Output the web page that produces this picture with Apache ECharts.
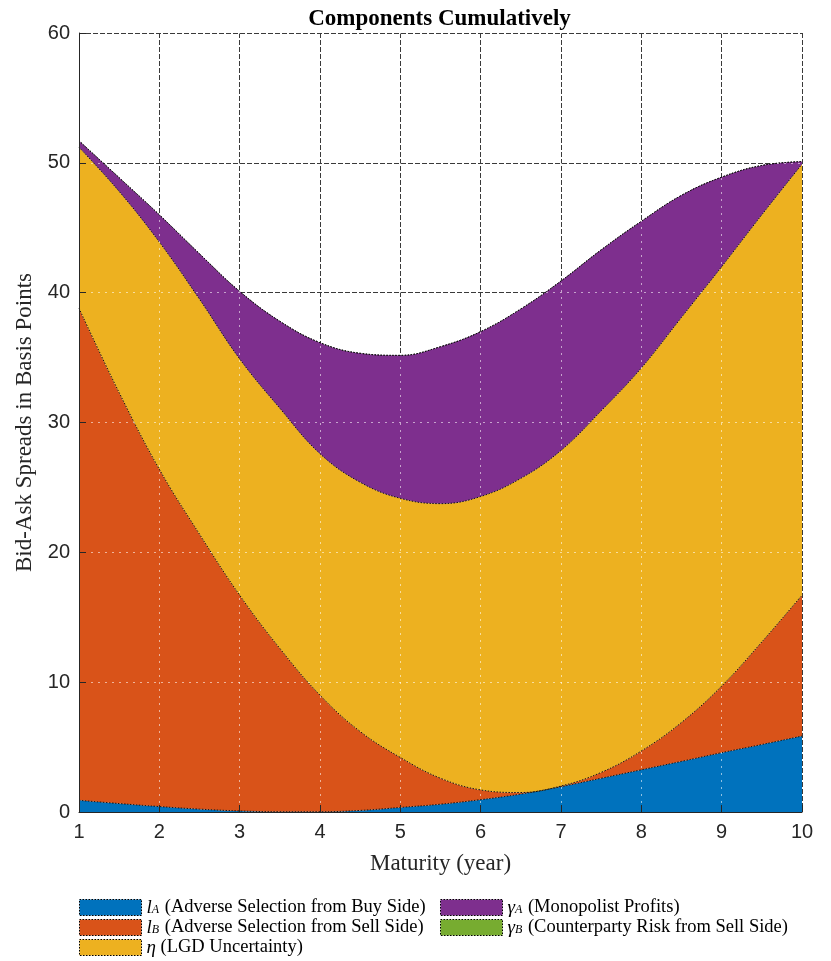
<!DOCTYPE html>
<html>
<head>
<meta charset="utf-8">
<script src="https://cdn.jsdelivr.net/npm/echarts@6/dist/echarts.min.js"></script>
<style>
html,body{margin:0;padding:0;background:#fff;}
#chart{width:831px;height:961px;}
</style>
</head>
<body>
<div id="chart"></div>
<script>
// Maturity (years)
const maturity = [1, 1.5, 2, 2.5, 3, 3.5, 4, 4.5, 5, 5.5, 6, 6.5, 7, 7.5, 8, 8.5, 9, 9.5, 10];
// Components (basis points), stacked cumulatively
const lA     = [0.9, 0.65, 0.42, 0.22, 0.08, 0.02, 0.02, 0.12, 0.35, 0.6, 0.95, 1.38, 1.95, 2.6, 3.25, 3.9, 4.57, 5.2, 5.85];
const lB     = [37.9, 31.65, 25.98, 21.18, 16.62, 12.58, 8.98, 6.08, 3.85, 2.0, 0.75, 0.12, 0.05, 0.45, 1.45, 3.0, 5.13, 7.9, 10.85];
const eta    = [12.4, 15.5, 17.5, 18.1, 18.2, 18.5, 18.6, 19.2, 19.96, 21.15, 22.6, 24.2, 25.85, 27.85, 29.5, 31.2, 32.3, 32.9, 33.2];
const gammaA = [0.5, 1.06, 2.1, 3.5, 5.2, 6.7, 8.55, 9.93, 11.01, 12.09, 12.7, 13.05, 13.05, 12.4, 11.3, 9.4, 6.9, 3.8, 0.2];
const gammaB = [0, 0, 0, 0, 0, 0, 0, 0, 0, 0, 0, 0, 0, 0, 0, 0, 0, 0, 0];

const seriesNames = ['lA', 'lB', 'eta', 'gA', 'gB'];
const seriesValues = [lA, lB, eta, gammaA, gammaB];
const colors = ['#0072BD', '#D95319', '#EDB120', '#7E2F8E', '#77AC30'];
const legendLabels = {
  lA: '{i|l}{s|A}{t| (Adverse Selection from Buy Side)}',
  lB: '{i|l}{s|B}{t| (Adverse Selection from Sell Side)}',
  eta: '{i|η}{t| (LGD Uncertainty)}',
  gA: '{i|γ}{s|A}{t| (Monopolist Profits)}',
  gB: '{i|γ}{s|B}{t| (Counterparty Risk from Sell Side)}'
};
// legend placement: [name, left, top]
const legendSlots = [['lA', 79, 898], ['lB', 79, 918], ['eta', 79, 938], ['gA', 440, 898], ['gB', 440, 918]];
const titleText = 'Components Cumulatively';
const xName = 'Maturity (year)';
const yName = 'Bid-Ask Spreads in Basis Points';

const chart = echarts.init(document.getElementById('chart'), null, {renderer: 'canvas'});

const serif = "'Liberation Serif', 'Times New Roman', serif";
const sans = "'Liberation Sans Narrow', 'Liberation Sans', Arial, sans-serif";

const gridPos = {left: 79, right: 29, top: 33, bottom: 149};
const cats = maturity.map(String);
const isInt = (idx) => Number.isInteger(maturity[idx]);

const series = seriesNames.map((n, k) => ({
  name: n,
  type: 'line',
  stack: 'total',
  xAxisIndex: 0,
  yAxisIndex: 0,
  smooth: 0.4,
  showSymbol: false,
  symbol: 'none',
  z: 2,
  data: seriesValues[k].slice(),
  itemStyle: {color: colors[k]},
  lineStyle: {color: '#111', width: 1, type: [1.5, 1.5]},
  areaStyle: {color: colors[k], opacity: 1}
}));

const richLegend = {
  i: {fontFamily: serif, fontStyle: 'italic', fontSize: 19, color: '#000', lineHeight: 16},
  s: {fontFamily: serif, fontStyle: 'italic', fontSize: 12, color: '#000', verticalAlign: 'bottom', lineHeight: 10, padding: [0, 1, 0, 0]},
  t: {fontFamily: serif, fontSize: 18.5, color: '#000', lineHeight: 16}
};

const legends = legendSlots.map(([name, left, top]) => ({
  orient: 'vertical',
  icon: 'rect',
  itemWidth: 62,
  itemHeight: 16,
  padding: 0,
  left: left,
  top: top,
  selectedMode: false,
  data: [name],
  itemStyle: {borderColor: '#000', borderWidth: 1, borderType: [1.5, 1.5]},
  formatter: (nm) => legendLabels[nm],
  textStyle: {rich: richLegend, padding: [0, 0, 0, 0], lineHeight: 16}
}));

const catAxisBase = {
  type: 'category', data: cats, boundaryGap: false
};

const option = {
  animation: false,
  backgroundColor: '#fff',
  color: colors,
  title: {
    text: titleText,
    left: 434.5,
    textAlign: 'center',
    top: 3,
    textStyle: {fontFamily: serif, fontWeight: 'bold', fontSize: 23, color: '#000'}
  },
  legend: legends,
  grid: [
    Object.assign({}, gridPos),
    Object.assign({}, gridPos)
  ],
  xAxis: [
    Object.assign({}, catAxisBase, {
      gridIndex: 0, z: 0,
      axisLine: {show: false}, axisTick: {show: false}, axisLabel: {show: false},
      splitLine: {show: true, interval: (idx) => isInt(idx), lineStyle: {color: '#3a3a3a', width: 1, type: [5, 2]}}
    }),
    Object.assign({}, catAxisBase, {
      gridIndex: 1, z: 5,
      name: xName, nameLocation: 'middle', nameGap: 40,
      nameTextStyle: {fontFamily: serif, fontSize: 23, color: '#262626'},
      axisLine: {show: true, onZero: false, lineStyle: {color: '#262626', width: 1}},
      axisTick: {show: true, inside: true, length: 7, interval: (idx) => isInt(idx), lineStyle: {color: '#262626'}},
      axisLabel: {show: true, margin: 10, interval: (idx) => isInt(idx), fontFamily: sans, fontSize: 20, color: '#262626'},
      splitLine: {show: true, interval: (idx) => isInt(idx), lineStyle: {color: 'rgba(255,255,255,0.75)', width: 1, type: [1.5, 5.5], dashOffset: 1.75}}
    })
  ],
  yAxis: [
    {
      type: 'value', gridIndex: 0, min: 0, max: 60, interval: 10, z: 0,
      axisLine: {show: false}, axisTick: {show: false}, axisLabel: {show: false},
      splitLine: {show: true, lineStyle: {color: '#3a3a3a', width: 1, type: [5, 2]}}
    },
    {
      type: 'value', gridIndex: 1, min: 0, max: 60, interval: 10, z: 5,
      name: yName, nameLocation: 'middle', nameGap: 32,
      nameTextStyle: {fontFamily: serif, fontSize: 23, color: '#262626'},
      axisLine: {show: true, onZero: false, lineStyle: {color: '#262626', width: 1}},
      axisTick: {show: true, inside: true, length: 7, lineStyle: {color: '#262626'}},
      axisLabel: {show: true, margin: 9, fontFamily: sans, fontSize: 20, color: '#262626'},
      splitLine: {show: true, lineStyle: {color: 'rgba(255,255,255,0.75)', width: 1, type: [1.5, 5.5], dashOffset: 1.75}}
    }
  ],
  series: series
};

chart.setOption(option);
</script>
</body>
</html>
